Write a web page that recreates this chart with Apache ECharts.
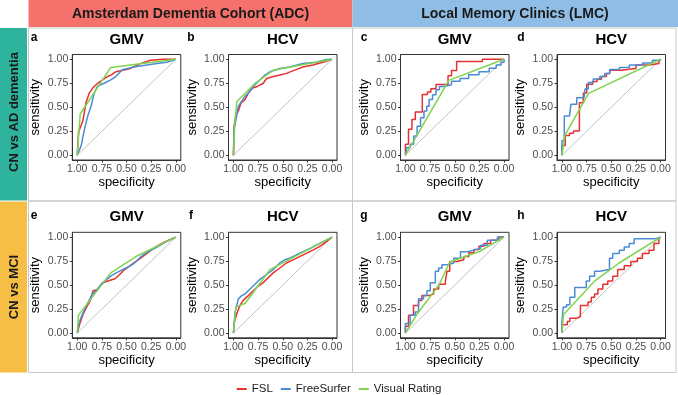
<!DOCTYPE html>
<html>
<head>
<meta charset="utf-8">
<script src="https://cdn.jsdelivr.net/npm/echarts@6/dist/echarts.min.js"></script>
<style>
  html, body { margin: 0; padding: 0; background: #fff; }
  #chart { width: 678px; height: 395px; }
</style>
</head>
<body>
<div id="chart"></div>
<script>
  // panels and labels
  const panels = ['a', 'b', 'c', 'd', 'e', 'f', 'g', 'h']
  const measures = ['GMV', 'HCV', 'GMV', 'HCV', 'GMV', 'HCV', 'GMV', 'HCV']
  const cohorts = ['Amsterdam Dementia Cohort (ADC)', 'Local Memory Clinics (LMC)']
  const comparisons = ['CN vs AD dementia', 'CN vs MCI']
  const seriesNames = ['FSL', 'FreeSurfer', 'Visual Rating']
  const tickValues = [0, 0.25, 0.5, 0.75, 1]

  // [specificity, sensitivity]
  const fslA = [[1,0],[0.987,0.24],[0.943,0.36],[0.91,0.55],[0.877,0.65],[0.843,0.70],[0.793,0.75],[0.743,0.785],[0.693,0.82],[0.66,0.835],[0.61,0.87],[0.56,0.88],[0.46,0.905],[0.36,0.955],[0.26,0.99],[0.13,1],[0,1]]
  const fsA = [[1,0],[0.96,0.10],[0.927,0.27],[0.893,0.41],[0.86,0.51],[0.827,0.65],[0.793,0.72],[0.727,0.75],[0.66,0.785],[0.61,0.82],[0.543,0.89],[0.427,0.92],[0.293,0.94],[0.193,0.955],[0.093,0.97],[0,1]]
  const vrA = [[1,0],[0.97,0.43],[0.66,0.915],[0,1]]

  const fslB = [[1,0],[0.993,0.307],[0.977,0.41],[0.95,0.46],[0.923,0.546],[0.883,0.58],[0.849,0.648],[0.805,0.70],[0.758,0.717],[0.698,0.75],[0.664,0.80],[0.597,0.82],[0.53,0.836],[0.463,0.853],[0.379,0.887],[0.295,0.92],[0.195,0.94],[0.094,0.97],[0,1]]
  const fsB = [[1,0],[0.993,0.273],[0.98,0.34],[0.95,0.51],[0.916,0.563],[0.883,0.614],[0.849,0.648],[0.799,0.717],[0.732,0.785],[0.681,0.836],[0.631,0.87],[0.53,0.904],[0.43,0.92],[0.295,0.956],[0.161,0.97],[0.06,0.997],[0,1]]
  const vrB = [[1,0],[0.985,0.35],[0.965,0.56],[0.78,0.75],[0.6,0.885],[0,1]]

  const fslC = [[1,0],[1,0.115],[0.969,0.27],[0.934,0.372],[0.9,0.45],[0.829,0.634],[0.777,0.658],[0.742,0.693],[0.69,0.738],[0.568,0.828],[0.533,0.883],[0.481,0.976],[0.22,1],[0,1]]
  const fsC = [[1,0],[0.986,0.08],[0.951,0.115],[0.916,0.2],[0.882,0.303],[0.847,0.39],[0.812,0.46],[0.784,0.51],[0.76,0.58],[0.725,0.63],[0.69,0.683],[0.655,0.717],[0.603,0.734],[0.533,0.77],[0.446,0.80],[0.359,0.838],[0.254,0.87],[0.15,0.907],[0.08,0.94],[0.03,0.97],[0,1]]
  const vrC = [[1,0],[0.56,0.78],[0,1]]

  const fslD = [[1,0],[1,0.1],[0.966,0.205],[0.923,0.229],[0.883,0.253],[0.823,0.546],[0.783,0.648],[0.749,0.74],[0.689,0.768],[0.643,0.792],[0.6,0.82],[0.549,0.853],[0.516,0.887],[0.399,0.904],[0.249,0.94],[0.116,0.956],[0.016,0.99],[0,1]]
  const fsD = [[1,0],[1,0.154],[0.976,0.41],[0.923,0.427],[0.909,0.53],[0.85,0.6],[0.776,0.614],[0.766,0.689],[0.733,0.758],[0.683,0.795],[0.616,0.82],[0.566,0.853],[0.516,0.894],[0.416,0.915],[0.316,0.94],[0.183,0.962],[0.083,0.99],[0,1]]
  const vrD = [[1,0],[0.97,0.21],[0.73,0.645],[0,1]]

  const fslE = [[1,0],[0.977,0.085],[0.943,0.19],[0.91,0.26],[0.867,0.34],[0.84,0.44],[0.8,0.45],[0.767,0.49],[0.733,0.525],[0.683,0.545],[0.617,0.565],[0.58,0.6],[0.533,0.65],[0.467,0.7],[0.4,0.75],[0.333,0.8],[0.267,0.85],[0.2,0.9],[0.133,0.94],[0.067,0.97],[0,1]]
  const fsE = [[1,0],[0.983,0.1],[0.95,0.19],[0.9,0.3],[0.85,0.4],[0.8,0.45],[0.75,0.52],[0.7,0.56],[0.65,0.6],[0.6,0.63],[0.5,0.68],[0.43,0.72],[0.35,0.8],[0.28,0.85],[0.2,0.89],[0.1,0.95],[0,1]]
  const vrE = [[1,0],[0.987,0.186],[0.66,0.627],[0.4,0.8],[0,1]]

  const fslF = [[1,0],[0.99,0.12],[0.966,0.2],[0.933,0.29],[0.9,0.34],[0.849,0.39],[0.799,0.44],[0.748,0.49],[0.698,0.525],[0.648,0.576],[0.597,0.627],[0.53,0.678],[0.463,0.73],[0.396,0.763],[0.329,0.797],[0.262,0.83],[0.195,0.864],[0.128,0.9],[0.06,0.95],[0,1]]
  const fsF = [[1,0],[0.983,0.22],[0.95,0.356],[0.916,0.39],[0.883,0.407],[0.832,0.458],[0.782,0.508],[0.732,0.56],[0.664,0.61],[0.597,0.66],[0.53,0.73],[0.48,0.763],[0.43,0.78],[0.362,0.814],[0.295,0.847],[0.228,0.88],[0.161,0.915],[0.094,0.95],[0,1]]
  const vrF = [[1,0],[0.975,0.27],[0.88,0.31],[0.63,0.66],[0,1]]

  const fslG = [[1,0],[1,0.07],[0.969,0.186],[0.918,0.288],[0.867,0.339],[0.833,0.39],[0.765,0.407],[0.714,0.458],[0.663,0.508],[0.595,0.542],[0.578,0.644],[0.551,0.746],[0.476,0.763],[0.408,0.797],[0.357,0.837],[0.306,0.871],[0.255,0.905],[0.204,0.932],[0.136,0.966],[0.051,1],[0,1]]
  const fsG = [[1,0],[1,0.1],[0.952,0.186],[0.901,0.22],[0.867,0.356],[0.816,0.39],[0.782,0.44],[0.748,0.525],[0.697,0.644],[0.663,0.678],[0.629,0.712],[0.578,0.73],[0.51,0.78],[0.442,0.847],[0.374,0.864],[0.306,0.88],[0.238,0.915],[0.17,0.966],[0.068,1],[0,1]]
  const vrG = [[1,0],[0.88,0.2],[0.66,0.5],[0.55,0.74],[0.25,0.85],[0,1]]

  const fslH = [[1,0],[1,0.085],[0.946,0.12],[0.92,0.153],[0.853,0.17],[0.813,0.288],[0.736,0.322],[0.702,0.373],[0.669,0.407],[0.635,0.458],[0.585,0.508],[0.535,0.542],[0.485,0.593],[0.435,0.661],[0.368,0.702],[0.301,0.746],[0.234,0.78],[0.184,0.83],[0.117,0.864],[0.067,0.932],[0.017,0.983],[0,1]]
  const fsH = [[1,0],[1,0.119],[0.987,0.271],[0.953,0.295],[0.92,0.373],[0.87,0.475],[0.753,0.542],[0.719,0.593],[0.669,0.644],[0.619,0.661],[0.518,0.78],[0.485,0.83],[0.418,0.864],[0.368,0.898],[0.318,0.932],[0.268,0.983],[0.05,1],[0,1]]
  const vrH = [[1,0],[0.985,0.19],[0.67,0.54],[0.42,0.73],[0,1]]

  const curves = [
    [fslA, fsA, vrA], [fslB, fsB, vrB], [fslC, fsC, vrC], [fslD, fsD, vrD],
    [fslE, fsE, vrE], [fslF, fsF, vrF], [fslG, fsG, vrG], [fslH, fsH, vrH]
  ]
  // small LMC samples -> staircase curves
  const stepped = [false, false, true, true, false, false, true, true]

  const colors = ['#E7312F', '#4A8BD6', '#7FD34E']
  const font = '"Liberation Sans", Arial, sans-serif'

  const gridLeft = [72.3, 228.5, 400.5, 557]
  const gridTop = [54.5, 232.3]
  const gridW = 108.5
  const gridH = 105.5

  const myChart = echarts.init(document.getElementById('chart'), null, { renderer: 'canvas' })

  let grids = []
  let xAxes = []
  let yAxes = []
  let series = []
  let graphics = []

  // header strips
  graphics.push({ type: 'rect', shape: { x: 28.5, y: 0, width: 324, height: 27 }, style: { fill: '#F4726B' } })
  graphics.push({ type: 'rect', shape: { x: 352.5, y: 0, width: 326, height: 27 }, style: { fill: '#90BDE5' } })
  graphics.push({ type: 'text', x: 190.5, y: 14, style: { text: cohorts[0], align: 'center', verticalAlign: 'middle', fontSize: 14, fontWeight: 'bold', fontFamily: font, fill: '#1a1a1a' } })
  graphics.push({ type: 'text', x: 515, y: 14, style: { text: cohorts[1], align: 'center', verticalAlign: 'middle', fontSize: 14, fontWeight: 'bold', fontFamily: font, fill: '#1a1a1a' } })
  // row strips
  graphics.push({ type: 'rect', shape: { x: 0, y: 28, width: 27, height: 172.5 }, style: { fill: '#2EB39C' } })
  graphics.push({ type: 'rect', shape: { x: 0, y: 201.5, width: 27, height: 171 }, style: { fill: '#F6BE44' } })
  graphics.push({ type: 'text', x: 14, y: 112, rotation: Math.PI / 2, style: { text: comparisons[0], align: 'center', verticalAlign: 'middle', fontSize: 13, fontWeight: 'bold', fontFamily: font, fill: '#1a1a1a' } })
  graphics.push({ type: 'text', x: 14, y: 287, rotation: Math.PI / 2, style: { text: comparisons[1], align: 'center', verticalAlign: 'middle', fontSize: 13, fontWeight: 'bold', fontFamily: font, fill: '#1a1a1a' } })
  // cell borders
  const cellX = [28.5, 352.5]
  const cellY = [28, 201]
  const cellW = [324, 323.5]
  const cellH = [173, 171.5]
  cellX.forEach((cx, c) => {
    cellY.forEach((cy, r) => {
      graphics.push({ type: 'rect', shape: { x: cx, y: cy, width: cellW[c], height: cellH[r] }, style: { fill: 'none', stroke: '#C8C8C8', lineWidth: 1 } })
    })
  })

  const letterX = [34, 191, 364, 521]

  panels.forEach((p, i) => {
    const col = i % 4
    const row = Math.floor(i / 4)
    grids.push({
      left: gridLeft[col], top: gridTop[row], width: gridW, height: gridH,
      show: true, borderColor: '#333', borderWidth: 1, backgroundColor: '#fff'
    })
    xAxes.push({
      gridIndex: i, type: 'value', inverse: true, min: -0.05, max: 1.05,
      name: 'specificity', nameLocation: 'middle', nameGap: 15,
      nameTextStyle: { fontSize: 13, color: '#000', fontFamily: font },
      axisLine: { show: true, onZero: false, lineStyle: { color: '#333', width: 1 } },
      axisTick: { show: true, length: 2.5, customValues: tickValues, lineStyle: { color: '#333' } },
      axisLabel: { customValues: tickValues, formatter: v => v.toFixed(2), fontSize: 10.5, color: '#4d4d4d', margin: 4, fontFamily: font },
      splitLine: { show: false }
    })
    yAxes.push({
      gridIndex: i, type: 'value', min: -0.05, max: 1.05,
      name: 'sensitivity', nameLocation: 'middle', nameGap: 30, nameRotate: 90,
      nameTextStyle: { fontSize: 13, color: '#000', fontFamily: font },
      axisLine: { show: true, onZero: false, lineStyle: { color: '#333', width: 1 } },
      axisTick: { show: true, length: 2.5, customValues: tickValues, lineStyle: { color: '#333' } },
      axisLabel: { customValues: tickValues, formatter: v => v.toFixed(2), fontSize: 10.5, color: '#4d4d4d', margin: 4, fontFamily: font },
      splitLine: { show: false }
    })
    // chance line
    series.push({
      type: 'line', name: 'chance', xAxisIndex: i, yAxisIndex: i,
      data: [[1, 0], [0, 1]], symbol: 'none', silent: true,
      lineStyle: { color: '#B3B3B3', width: 0.8 }, z: 2
    })
    curves[i].forEach((data, j) => {
      series.push({
        type: 'line', name: seriesNames[j], xAxisIndex: i, yAxisIndex: i,
        data: data, symbol: 'none', showSymbol: false,
        step: (stepped[i] && j < 2) ? 'end' : false,
        lineStyle: { color: colors[j], width: 1.5 },
        itemStyle: { color: colors[j] },
        z: 3 + j
      })
    })
    // panel letter and title
    graphics.push({ type: 'text', x: letterX[col], y: gridTop[row] - 17, style: { text: p, align: 'center', verticalAlign: 'middle', fontSize: 12, fontWeight: 'bold', fontFamily: font, fill: '#000' } })
    graphics.push({ type: 'text', x: gridLeft[col] + gridW / 2, y: gridTop[row] - 15, style: { text: measures[i], align: 'center', verticalAlign: 'middle', fontSize: 15, fontWeight: 'bold', fontFamily: font, fill: '#000' } })
  })

  myChart.setOption({
    animation: false,
    backgroundColor: '#fff',
    legend: {
      data: seriesNames,
      top: 378,
      left: 'center',
      icon: 'rect',
      itemWidth: 10,
      itemHeight: 2,
      itemGap: 8,
      textStyle: { fontSize: 11.5, color: '#1a1a1a', fontFamily: font }
    },
    graphic: graphics,
    grid: grids,
    xAxis: xAxes,
    yAxis: yAxes,
    series: series
  })

  window.addEventListener('resize', () => {
    myChart && myChart.resize()
  })
</script>
</body>
</html>
